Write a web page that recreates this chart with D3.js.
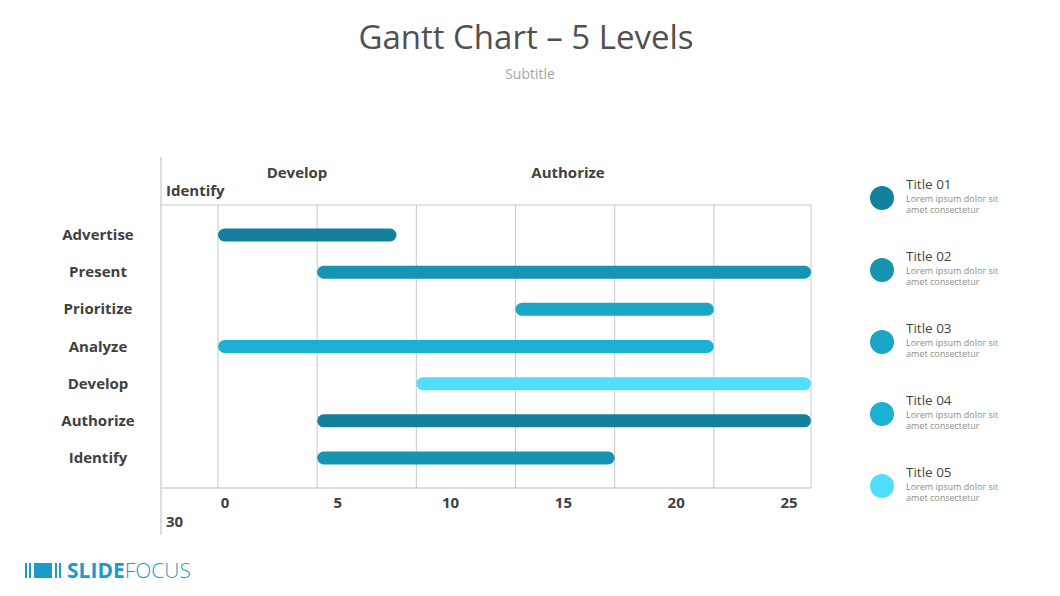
<!DOCTYPE html>
<html lang="en">
<head>
<meta charset="UTF-8">
<title>Gantt Chart – 5 Levels</title>
<script src="https://d3js.org/d3.v7.min.js"></script>
<style>
  body { margin: 0; background: #fff; font-family: "Open Sans", "Noto Sans", sans-serif; }
</style>
</head>
<body>
<div id="chart"></div>
<script>
// data
var tasks = ["Advertise", "Present", "Prioritize", "Analyze", "Develop", "Authorize", "Identify"];
var starts = [0, 5, 15, 0, 10, 5, 5];
var ends = [9, 30, 25, 25, 30, 30, 20];
var levels = [1, 2, 3, 4, 5, 1, 2];
var gridTicks = [0, 5, 10, 15, 20, 25, 30];
var tickLabels = ["0", "5", "10", "15", "20", "25"];
var headerLabels = ["Develop", "Authorize"];
var legendTitles = ["Title 01", "Title 02", "Title 03", "Title 04", "Title 05"];
var levelColors = ["#13809d", "#1794b2", "#1aa7c7", "#1cb1d3", "#4fdffd"];

var W = 1060, H = 596;
var svg = d3.select("#chart").append("svg")
  .attr("width", W).attr("height", H);

var textDark = "#404040";

// title
svg.append("text")
  .attr("x", 526).attr("y", 49)
  .attr("text-anchor", "middle")
  .style("font-size", "33px").style("fill", "#505050")
  .text("Gantt Chart – 5 Levels");
svg.append("text")
  .attr("x", 530).attr("y", 79)
  .attr("text-anchor", "middle")
  .style("font-size", "14px").style("fill", "#a6a6a6")
  .text("Subtitle");

// scales
var plotLeft = 161, plotRight = 811, plotTop = 205, plotBottom = 488;
var x = d3.scaleLinear().domain([0, 30]).range([218, 813]);
var y = d3.scalePoint().domain(tasks).range([235, 458]);
var barH = 13;

// frame + gridlines
var g = svg.append("g");
g.selectAll(".grid")
  .data(gridTicks)
  .enter().append("line")
  .attr("x1", function(d) { return Math.min(x(d), plotRight); })
  .attr("x2", function(d) { return Math.min(x(d), plotRight); })
  .attr("y1", plotTop).attr("y2", plotBottom)
  .attr("stroke", "#c8c8c8").attr("stroke-width", 1);
g.append("line")
  .attr("x1", plotLeft).attr("x2", plotRight)
  .attr("y1", plotTop).attr("y2", plotTop)
  .attr("stroke", "#c8c8c8");
g.append("line")
  .attr("x1", plotLeft).attr("x2", plotRight)
  .attr("y1", plotBottom).attr("y2", plotBottom)
  .attr("stroke", "#bdbdbd");
g.append("line")
  .attr("x1", plotLeft).attr("x2", plotLeft)
  .attr("y1", 157).attr("y2", 535)
  .attr("stroke", "#bdbdbd");

// bars
g.selectAll(".bar")
  .data(tasks)
  .enter().append("rect")
  .attr("x", function(d, i) { return x(starts[i]); })
  .attr("y", function(d) { return y(d) - barH / 2; })
  .attr("width", function(d, i) { return Math.min(x(ends[i]), plotRight) - x(starts[i]); })
  .attr("height", barH)
  .attr("rx", barH / 2)
  .attr("fill", function(d, i) { return levelColors[levels[i] - 1]; });

// row labels
g.selectAll(".rowlabel")
  .data(tasks)
  .enter().append("text")
  .attr("x", 98)
  .attr("y", function(d) { return y(d) + 5; })
  .attr("text-anchor", "middle")
  .style("font-size", "15px").style("font-weight", "bold").style("fill", textDark)
  .text(function(d) { return d; });

// top header labels (wrapped the way the source chart shows them)
var hx = d3.scalePoint().domain(headerLabels).range([297, 568]);
g.selectAll(".hdr")
  .data(headerLabels)
  .enter().append("text")
  .attr("x", function(d) { return hx(d); })
  .attr("y", 178)
  .attr("text-anchor", "middle")
  .style("font-size", "15px").style("font-weight", "bold").style("fill", textDark)
  .text(function(d) { return d; });
g.append("text")
  .attr("x", 166).attr("y", 196)
  .style("font-size", "15px").style("font-weight", "bold").style("fill", textDark)
  .text("Identify");

// bottom tick labels
var tx = d3.scalePoint().domain(tickLabels).range([225, 789]);
g.selectAll(".tick")
  .data(tickLabels)
  .enter().append("text")
  .attr("x", function(d) { return tx(d); })
  .attr("y", 508)
  .attr("text-anchor", "middle")
  .style("font-size", "15px").style("font-weight", "bold").style("fill", textDark)
  .text(function(d) { return d; });
g.append("text")
  .attr("x", 166).attr("y", 527)
  .style("font-size", "15px").style("font-weight", "bold").style("fill", textDark)
  .text("30");

// legend
var ly = d3.scalePoint().domain(legendTitles).range([198, 486]);
var leg = svg.selectAll(".leg")
  .data(legendTitles)
  .enter().append("g")
  .attr("transform", function(d) { return "translate(0," + ly(d) + ")"; });
leg.append("circle")
  .attr("cx", 882).attr("cy", 0).attr("r", 12)
  .attr("fill", function(d, i) { return levelColors[i]; });
leg.append("text")
  .attr("x", 906).attr("y", -9)
  .style("font-size", "13.5px").style("fill", "#454545")
  .text(function(d) { return d; });
leg.append("text")
  .attr("x", 906).attr("y", 4)
  .style("font-size", "9px").style("fill", "#8c8c8c")
  .text("Lorem ipsum dolor sit");
leg.append("text")
  .attr("x", 906).attr("y", 15)
  .style("font-size", "9px").style("fill", "#8c8c8c")
  .text("amet consectetur");

// logo
var logoColor = "#1b9bc5";
var logo = svg.append("g").attr("transform", "translate(25,563)");
[[0, 2], [4, 2], [9, 18], [30, 2], [34, 2]].forEach(function(b) {
  logo.append("rect").attr("x", b[0]).attr("y", 0).attr("width", b[1]).attr("height", 15).attr("fill", logoColor);
});
var lt = svg.append("text")
  .attr("x", 67).attr("y", 578)
  .style("font-size", "21px").style("fill", logoColor);
lt.append("tspan").style("font-weight", "bold").text("SLIDE");
lt.append("tspan").style("font-weight", "300").text("FOCUS");
</script>
</body>
</html>
